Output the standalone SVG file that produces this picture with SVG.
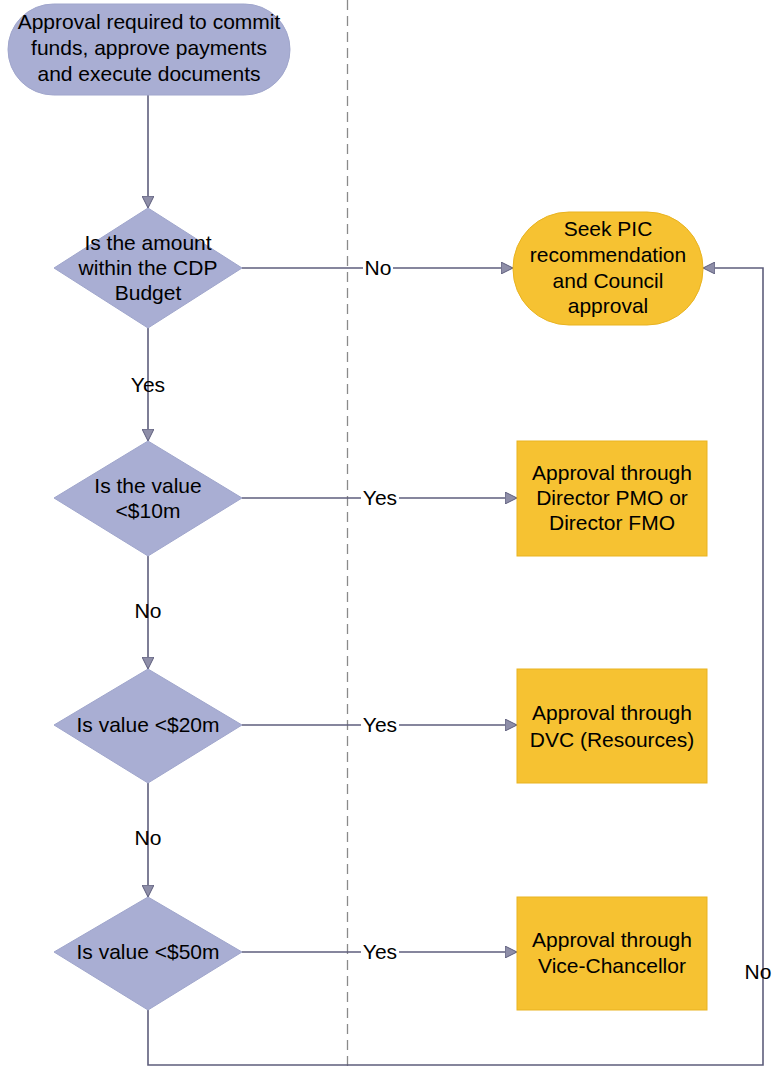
<svg xmlns="http://www.w3.org/2000/svg" width="776" height="1068" viewBox="0 0 776 1068">
<defs>
<style>
.blue{fill:#a9aed3;stroke:#a0a6cc;stroke-width:1}
.gold{fill:#f6c232;stroke:#e9b320;stroke-width:1}
.t{font-family:"Liberation Sans",Arial,sans-serif;font-size:21px;fill:#000;text-anchor:middle}
.c{fill:none;stroke:#5e5e7c;stroke-width:1.6}
.lbg{fill:#fff}
</style>
<marker id="arr" viewBox="0 0 12 12" refX="12" refY="6" markerWidth="12" markerHeight="12" markerUnits="userSpaceOnUse" orient="auto">
<path d="M0,0 L12,6 L0,12 Z" fill="#8e8ea8" stroke="#5e5e7c" stroke-width="1"/>
</marker>
</defs>
<rect width="776" height="1068" fill="#fff"/>
<line x1="347.5" y1="0" x2="347.5" y2="1068" stroke="#8a8a8a" stroke-width="1.3" stroke-dasharray="10,6"/>

<g id="connectors">
<path class="c" d="M148,95 V208" marker-end="url(#arr)"/>
<path class="c" d="M242,268 H513" marker-end="url(#arr)"/>
<path class="c" d="M148,328 V441" marker-end="url(#arr)"/>
<path class="c" d="M242,498 H517" marker-end="url(#arr)"/>
<path class="c" d="M148,556 V669" marker-end="url(#arr)"/>
<path class="c" d="M242,725 H517" marker-end="url(#arr)"/>
<path class="c" d="M148,783 V897" marker-end="url(#arr)"/>
<path class="c" d="M242,952 H517" marker-end="url(#arr)"/>
<path class="c" d="M148,1010 V1065 H763 V268 H703" marker-end="url(#arr)"/>
<rect class="lbg" x="363" y="257" width="30" height="22"/>
<text class="t" x="378" y="275">No</text>
<rect class="lbg" x="361" y="487" width="38" height="22"/>
<text class="t" x="380" y="505">Yes</text>
<rect class="lbg" x="361" y="714" width="38" height="22"/>
<text class="t" x="380" y="732">Yes</text>
<rect class="lbg" x="361" y="941" width="38" height="22"/>
<text class="t" x="380" y="959">Yes</text>
<text class="t" x="148" y="392">Yes</text>
<text class="t" x="148" y="618">No</text>
<text class="t" x="148" y="845">No</text>
<text class="t" x="758" y="979">No</text>
</g>

<g id="start">
<rect class="blue" x="8" y="4" width="282" height="91" rx="45.5" ry="45.5"/>
<text class="t" x="149" y="29">Approval required to commit</text>
<text class="t" x="149" y="55">funds, approve payments</text>
<text class="t" x="149" y="81">and execute documents</text>
</g>

<g id="d1">
<polygon class="blue" points="148,208 242,268 148,328 54,268"/>
<text class="t" x="148" y="250">Is the amount</text>
<text class="t" x="148" y="275">within the CDP</text>
<text class="t" x="148" y="300">Budget</text>
</g>

<g id="d2">
<polygon class="blue" points="148,441 242,498 148,556 54,498"/>
<text class="t" x="148" y="493">Is the value</text>
<text class="t" x="148" y="518">&lt;$10m</text>
</g>

<g id="d3">
<polygon class="blue" points="148,669 242,725 148,783 54,725"/>
<text class="t" x="148" y="732">Is value &lt;$20m</text>
</g>

<g id="d4">
<polygon class="blue" points="148,897 242,952 148,1010 54,952"/>
<text class="t" x="148" y="959">Is value &lt;$50m</text>
</g>

<g id="pic">
<rect class="gold" x="513" y="212" width="190" height="113" rx="56" ry="56"/>
<text class="t" x="608" y="236">Seek PIC</text>
<text class="t" x="608" y="262">recommendation</text>
<text class="t" x="608" y="288">and Council</text>
<text class="t" x="608" y="313">approval</text>
</g>

<g id="r1">
<rect class="gold" x="517" y="441" width="190" height="115"/>
<text class="t" x="612" y="480">Approval through</text>
<text class="t" x="612" y="505">Director PMO or</text>
<text class="t" x="612" y="530">Director FMO</text>
</g>

<g id="r2">
<rect class="gold" x="517" y="669" width="190" height="114"/>
<text class="t" x="612" y="720">Approval through</text>
<text class="t" x="612" y="747">DVC (Resources)</text>
</g>

<g id="r3">
<rect class="gold" x="517" y="897" width="190" height="113"/>
<text class="t" x="612" y="947">Approval through</text>
<text class="t" x="612" y="973">Vice-Chancellor</text>
</g>
</svg>
